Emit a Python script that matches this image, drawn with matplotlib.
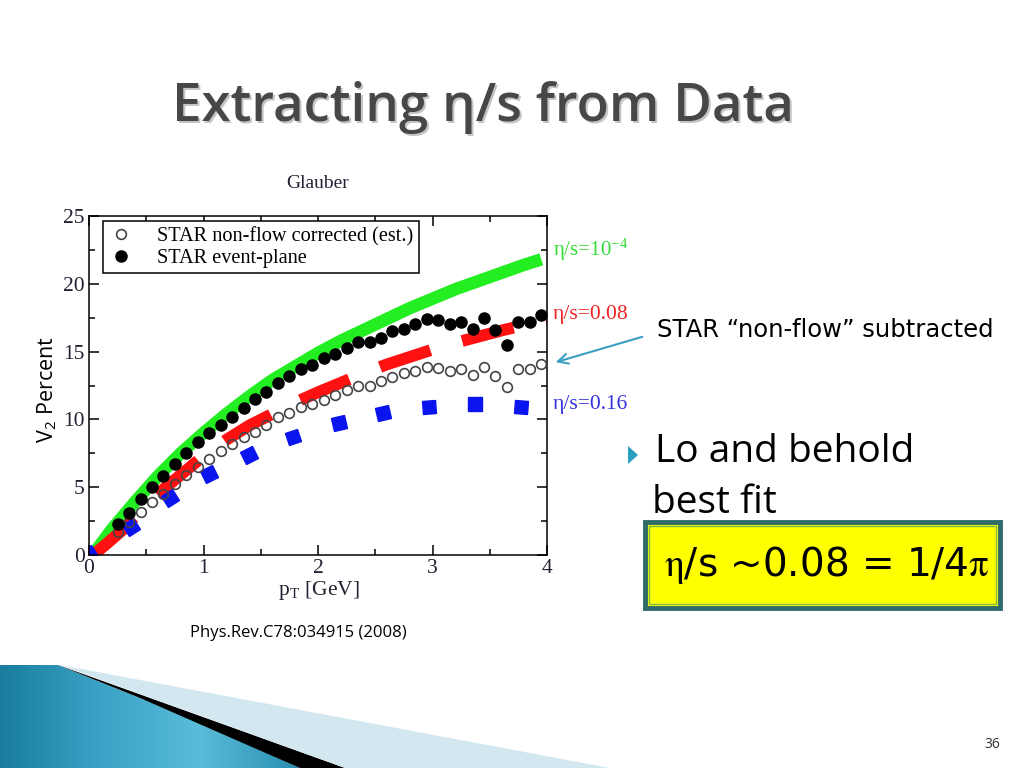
import numpy as np
import matplotlib
matplotlib.use("Agg")
import matplotlib.pyplot as plt
from matplotlib.patches import Polygon, Rectangle
from matplotlib.markers import MarkerStyle
from matplotlib.transforms import Affine2D
from matplotlib.colors import LinearSegmentedColormap

plt.rcParams['font.family'] = ['Liberation Serif', 'DejaVu Serif']
plt.rcParams['mathtext.fontset'] = 'stix'
SANS = ['Open Sans', 'DejaVu Sans']
WIDE = ['DejaVu Sans']

# STAR data points (pT in GeV, v2 in percent)
pt = [0.25, 0.35, 0.45, 0.55, 0.65, 0.75, 0.85, 0.95, 1.05, 1.15,
      1.25, 1.35, 1.45, 1.55, 1.65, 1.75, 1.85, 1.95, 2.05, 2.15,
      2.25, 2.35, 2.45, 2.55, 2.65, 2.75, 2.85, 2.95, 3.05, 3.15,
      3.25, 3.35, 3.45, 3.55, 3.65, 3.75, 3.85, 3.95]
v2_event_plane = [2.3, 3.1, 4.1, 5.0, 5.85, 6.7, 7.5, 8.3, 9.0, 9.6,
                  10.2, 10.85, 11.5, 12.0, 12.7, 13.2, 13.7, 14.0, 14.5, 14.8,
                  15.3, 15.7, 15.7, 16.0, 16.5, 16.7, 17.0, 17.4, 17.3, 17.0,
                  17.2, 16.7, 17.5, 16.6, 15.5, 17.2, 17.2, 17.7]
v2_nonflow = [1.7, 2.4, 3.2, 3.9, 4.5, 5.2, 5.9, 6.5, 7.1, 7.7,
              8.2, 8.7, 9.1, 9.6, 10.2, 10.5, 10.9, 11.1, 11.4, 11.8,
              12.2, 12.5, 12.5, 12.85, 13.15, 13.4, 13.6, 13.9, 13.8, 13.6,
              13.7, 13.3, 13.9, 13.2, 12.4, 13.7, 13.7, 14.1]

# hydro curves
ideal_x = [0.05, 0.2, 0.4, 0.6, 0.8, 1.0, 1.2, 1.4, 1.6, 1.8, 2.0,
           2.2, 2.4, 2.6, 2.8, 3.0, 3.2, 3.4, 3.6, 3.8, 3.95]
ideal_y = [0.2, 1.9, 3.9, 5.8, 7.5, 9.0, 10.4, 11.7, 12.9, 13.9, 14.9,
           15.8, 16.6, 17.4, 18.2, 18.9, 19.6, 20.2, 20.8, 21.4, 21.8]
visc08_x = [0.05, 0.15, 0.3, 0.45, 0.6, 0.8, 1.0, 1.2, 1.4, 1.6, 1.8,
            2.0, 2.2, 2.4, 2.6, 2.8, 3.0, 3.2, 3.4, 3.6, 3.8, 4.0]
visc08_y = [0.1, 0.8, 1.9, 3.3, 4.5, 5.9, 7.3, 8.5, 9.55, 10.4, 11.25,
            12.0, 12.7, 13.4, 14.05, 14.6, 15.15, 15.65, 16.1, 16.55, 16.95, 17.3]
visc16_x = [0.0, 0.37, 0.71, 1.05, 1.40, 1.78, 2.18, 2.57, 2.97, 3.37, 3.77]
visc16_y = [0.1, 2.1, 4.2, 5.95, 7.4, 8.7, 9.7, 10.45, 10.9, 11.1, 10.9]

x_ticks = [0, 1, 2, 3, 4]
y_ticks = [0, 5, 10, 15, 20, 25]


def main():
        fig = plt.figure(figsize=(10.24, 7.68), dpi=100)

        # slide layer in pixel coordinates
        bg = fig.add_axes([0, 0, 1, 1])
        bg.axis('off')

        # bottom-left decoration
        blue = Polygon([(0, 665), (58, 665), (140, 698), (220, 732), (300, 768), (0, 768)],
                       closed=True, facecolor='none', edgecolor='none')
        bg.add_patch(blue)
        grad = np.linspace(0, 1, 200)[None, :] * np.ones((50, 1))
        cmap = LinearSegmentedColormap.from_list('slide', ['#1a7d9e', '#3aa3c6', '#5bbcd9', '#2a8fb0'])
        im = bg.imshow(grad, extent=(0, 300, 768, 665), cmap=cmap, aspect='auto')
        im.set_clip_path(blue)
        bg.add_patch(Polygon([(58, 665), (345, 768), (300, 768), (140, 698)],
                             closed=True, facecolor='black', edgecolor='none'))
        bg.add_patch(Polygon([(60, 665), (610, 768), (345, 768)],
                             closed=True, facecolor='#d3e7f0', edgecolor='none'))

        # title with shadow
        bg.text(485, 110, "Extracting η/s from Data", ha='center', va='center',
                fontsize=38, family=SANS, weight='semibold', color='#c4c4c4')
        bg.text(483, 108, "Extracting η/s from Data", ha='center', va='center',
                fontsize=38, family=SANS, weight='semibold', color='#474747')

        bg.text(657, 330, "STAR “non-flow” subtracted", ha='left', va='center',
                fontsize=17.5, family=WIDE, color='black')
        bg.annotate('', xy=(553, 363), xytext=(645, 336),
                    arrowprops=dict(arrowstyle='->', color='#3a9fc0', lw=1.5, mutation_scale=18))

        bg.add_patch(Polygon([(628, 446), (628, 464), (638, 455)], closed=True,
                             facecolor='#2a9fbf', edgecolor='none'))
        bg.text(655, 452, "Lo and behold", ha='left', va='center', fontsize=28,
                family=SANS, color='black')
        bg.text(652, 503, "best fit", ha='left', va='center', fontsize=28,
                family=SANS, color='black')

        bg.add_patch(Rectangle((645, 522), 355, 86, facecolor='#ffff00',
                               edgecolor='#2f6b6a', lw=3.5))
        bg.add_patch(Rectangle((649, 526), 347, 78, facecolor='none',
                               edgecolor='#7fb84a', lw=1))
        bg.text(664, 565, r"$\mathrm{\eta}$/s ~0.08 = 1/4$\mathrm{\pi}$", ha='left', va='center',
                fontsize=28, family=WIDE, color='black')

        bg.text(298, 633, "Phys.Rev.C78:034915 (2008)", ha='center', va='center',
                fontsize=12, family=SANS, color='black')
        bg.text(992, 745, "36", ha='center', va='center', fontsize=10, family=SANS,
                color='#333333')

        bg.text(47, 390, r"V$_\mathregular{2}$ Percent", rotation=90, ha='center',
                va='center', fontsize=15.5, family=SANS, color='black')
        bg.text(319, 590, r"p$_\mathregular{T}$ [GeV]", ha='center', va='center',
                fontsize=15.5, color='#222233')
        bg.text(318, 183, "Glauber", ha='center', va='center', fontsize=14, color='#222233')

        bg.text(553, 250, r"η/s=10$^\mathregular{-4}$", ha='left', va='center',
                fontsize=15, color='#33dd33')
        bg.text(553, 315, "η/s=0.08", ha='left', va='center', fontsize=15.5, color='#ee2222')
        bg.text(553, 405, "η/s=0.16", ha='left', va='center', fontsize=15.5, color='#3030dd')

        bg.set_xlim(0, 1024)
        bg.set_ylim(768, 0)

        # chart
        ax = fig.add_axes([89 / 1024, 1 - 555 / 768, 458 / 1024, 339 / 768])
        ax.set_xlim(0, 4)
        ax.set_ylim(0, 25)

        ax.plot(ideal_x, ideal_y, color='#22ee22', lw=9, solid_capstyle='butt', zorder=2)
        ax.plot(visc08_x, visc08_y, color='#ff1111', lw=8.5, dashes=(4.5, 2.8),
                dash_capstyle='butt', zorder=2)

        # blue squares rotated along the curve
        disp = ax.transData.transform(np.column_stack([visc16_x, visc16_y]))
        ang = np.degrees(np.arctan2(np.gradient(disp[:, 1]), np.gradient(disp[:, 0])))
        for x, y, a in zip(visc16_x, visc16_y, ang):
                ax.plot([x], [y], ls='none', marker=MarkerStyle('s', transform=Affine2D().rotate_deg(a)),
                        color='#0a14ee', ms=9.5, zorder=2)

        ax.plot(pt, v2_nonflow, 'o', mfc='none', mec='#444444', mew=1.2, ms=7, zorder=3,
                label='STAR non-flow corrected (est.)')
        ax.plot(pt, v2_event_plane, 'o', color='black', ms=8, zorder=4,
                label='STAR event-plane')

        ax.set_xticks(x_ticks)
        ax.set_xticks([0.5, 1.5, 2.5, 3.5], minor=True)
        ax.set_yticks(y_ticks)
        ax.set_yticks([2.5, 7.5, 12.5, 17.5, 22.5], minor=True)
        ax.tick_params(which='both', direction='in', top=True, right=True, width=1.1,
                       labelsize=15.5, labelcolor='#222233', pad=3)
        ax.tick_params(which='major', length=7)
        ax.tick_params(which='minor', length=4)
        for s in ax.spines.values():
                s.set_linewidth(1.1)

        leg = ax.legend(loc='upper left', bbox_to_anchor=(0.03, 0.985), fontsize=14.6,
                        frameon=True, fancybox=False, edgecolor='black', framealpha=1,
                        borderpad=0.28, labelspacing=0.12, handlelength=1.2,
                        handletextpad=1.2, borderaxespad=0)
        leg.get_frame().set_linewidth(1.1)

        fig.savefig('out.png', dpi=100)


if __name__ == "__main__":
        main()
